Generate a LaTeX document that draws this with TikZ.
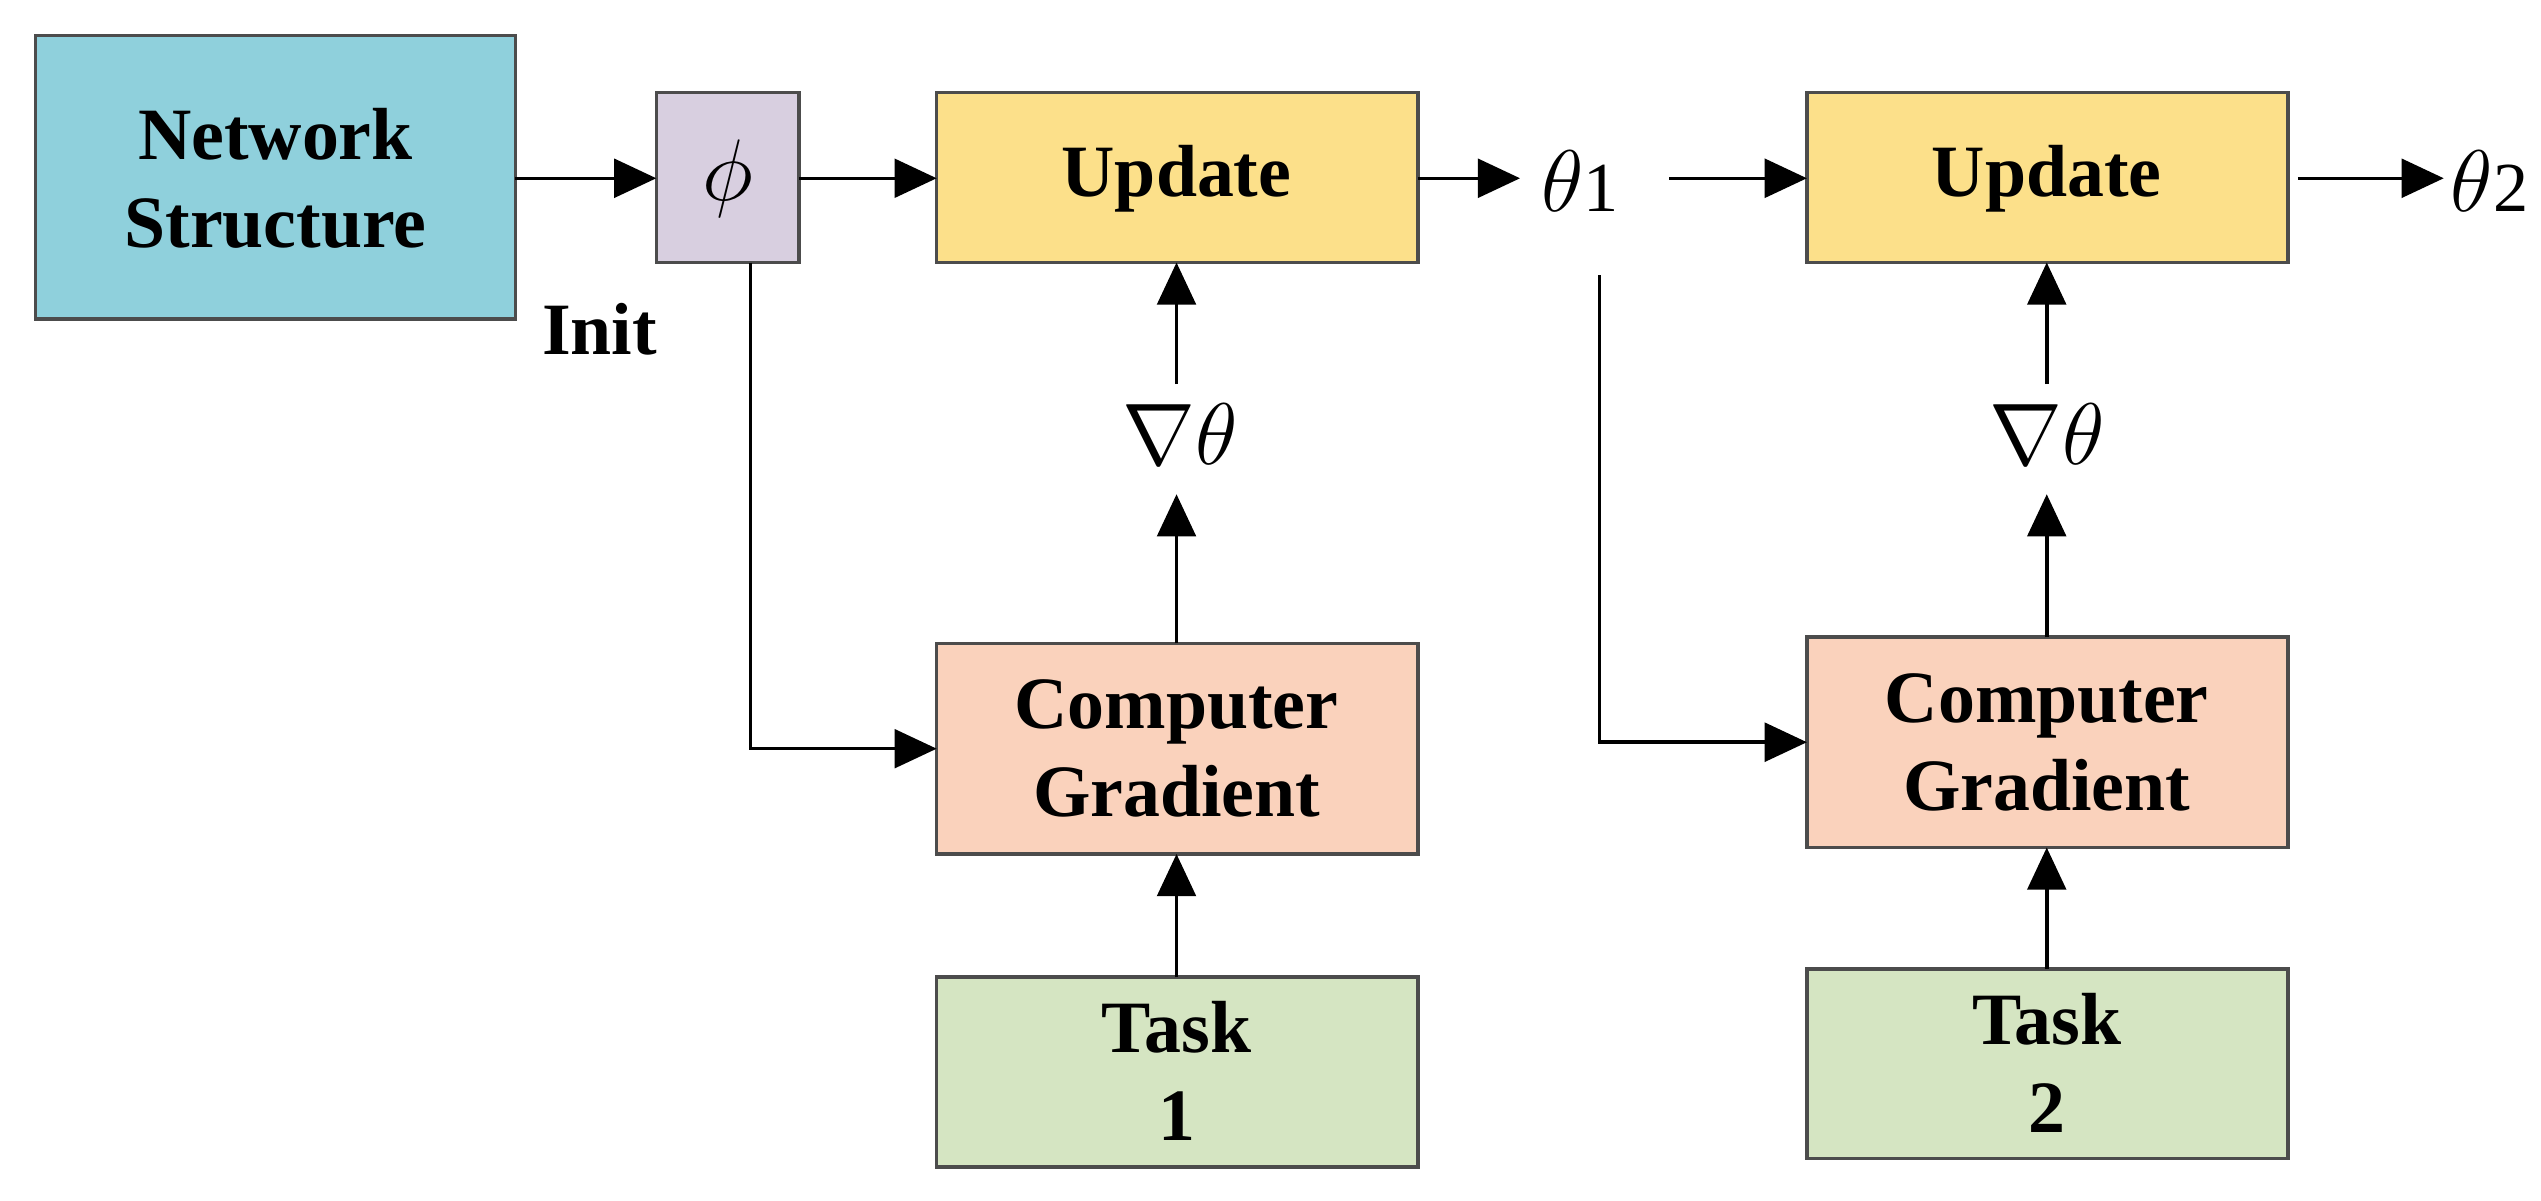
\documentclass[tikz,border=0pt]{standalone}
\usepackage{fontspec}
\setmainfont{Liberation Serif}
\usetikzlibrary{arrows.meta}
\begin{document}
\begin{tikzpicture}[x=0.0162cm,y=-0.0162cm,
 box/.style={draw=black!70,line width=1pt,align=center,font=\fontsize{21}{25}\selectfont\bfseries,inner sep=0pt},
 ar/.style={-{Triangle[length=12pt,width=11pt]},line width=1pt},
 lbl/.style={font=\fontsize{21}{25}\selectfont\bfseries,align=center}]
\useasboundingbox (0,0) rectangle (1568,741);
\path[box,fill={rgb,255:red,143;green,208;blue,220}] (22,22) rectangle (318,197);
\node[lbl] (nst) at (170,110) {Network\\Structure};
\path[box,fill={rgb,255:red,216;green,207;blue,224}] (405,57) rectangle (493,162);
\node (phi) at (449,110) {\fontsize{24}{28}\selectfont$\phi$};
\node[lbl] (init) at (370,203) {Init};
\path[box,fill={rgb,255:red,252;green,224;blue,138}] (578,57) rectangle (875,162);
\node[lbl] (u1) at (726,110) {Update};
\path[box,fill={rgb,255:red,252;green,224;blue,138}] (1115,57) rectangle (1412,162);
\node[lbl] (u2) at (1263,110) {Update};
\path[box,fill={rgb,255:red,250;green,210;blue,188}] (578,397) rectangle (875,527);
\node[lbl] (cg1) at (726,462) {Computer\\Gradient};
\path[box,fill={rgb,255:red,250;green,210;blue,188}] (1115,393) rectangle (1412,523);
\node[lbl] (cg2) at (1263,458) {Computer\\Gradient};
\path[box,fill={rgb,255:red,213;green,229;blue,194}] (578,603) rectangle (875,720);
\node[lbl] (t1) at (726,661) {Task\\1};
\path[box,fill={rgb,255:red,213;green,229;blue,194}] (1115,598) rectangle (1412,715);
\node[lbl] (t2) at (1263,656) {Task\\2};
\node (th1) at (975,112) {\fontsize{24}{28}\selectfont$\theta$\fontsize{20}{24}\selectfont 1};
\node[anchor=west,inner sep=0pt] (th2) at (1512,112) {\fontsize{24}{28}\selectfont$\theta$\fontsize{20}{24}\selectfont 2};
\node (g1) at (728,268) {\fontsize{24}{28}\selectfont$\nabla\theta$};
\node (g2) at (1263,268) {\fontsize{24}{28}\selectfont$\nabla\theta$};
\draw[ar] (318,110) -- (405,110);
\draw[ar] (493,110) -- (578,110);
\draw[ar] (875,110) -- (938,110);
\draw[ar] (1030,110) -- (1115,110);
\draw[ar] (1418,110) -- (1508,110);
\draw[ar] (463,162) |- (578,462);
\draw[ar] (987,170) |- (1115,458);
\draw[ar] (726,603) -- (726,527);
\draw[ar] (1263,598) -- (1263,523);
\draw[ar] (726,397) -- (726,305);
\draw[ar] (1263,393) -- (1263,305);
\draw[ar] (726,237) -- (726,162);
\draw[ar] (1263,237) -- (1263,162);
\end{tikzpicture}
\end{document}
